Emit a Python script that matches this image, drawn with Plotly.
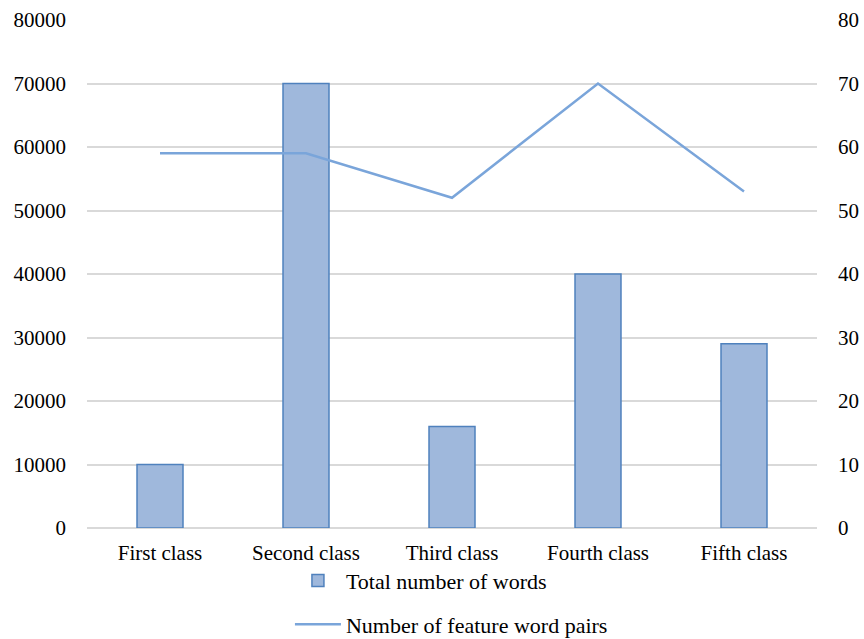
import plotly.graph_objects as go

categories = ["First class", "Second class", "Third class", "Fourth class", "Fifth class"]
total_words = [10000, 70000, 16000, 40000, 29000]
feature_pairs = [59, 59, 52, 70, 53]
left_ticks = [0, 10000, 20000, 30000, 40000, 50000, 60000, 70000, 80000]
right_ticks = [0, 10, 20, 30, 40, 50, 60, 70, 80]

font_family = "Liberation Serif, Times New Roman, serif"

fig = go.Figure()
fig.add_trace(go.Bar(
    x=categories, y=total_words, name="Total number of words",
    width=0.315,
    marker=dict(color="#9fb8dc", line=dict(color="#4f81bd", width=1.5)),
    legendgroup="a",
))
fig.add_trace(go.Scatter(
    x=categories, y=feature_pairs, name="Number of feature word pairs",
    mode="lines", yaxis="y2",
    line=dict(color="#7aa5da", width=2.5),
    legendgroup="b",
))

fig.update_layout(
    width=864, height=639,
    margin=dict(l=87, r=47, t=20, b=111, autoexpand=False),
    paper_bgcolor="white", plot_bgcolor="white",
    font=dict(family=font_family, size=21, color="#000000"),
    showlegend=True,
    legend=dict(
        orientation="v", x=0.278, xanchor="left",
        yref="container", y=0.124, yanchor="top",
        traceorder="grouped", tracegroupgap=12, itemwidth=46,
        font=dict(family=font_family, size=22),
        bgcolor="rgba(0,0,0,0)",
    ),
    xaxis=dict(
        showgrid=False, showline=False, ticks="", tickfont=dict(size=21),
        ticklabelstandoff=10,
    ),
    yaxis=dict(
        range=[0, 80000], tickvals=left_ticks, ticktext=[str(v) for v in left_ticks],
        showgrid=True, gridcolor="#d9d9d9", gridwidth=1.5,
        zeroline=True, zerolinecolor="#d9d9d9", zerolinewidth=1.5,
        showline=False, ticks="", ticklabelstandoff=20,
    ),
    yaxis2=dict(
        range=[0, 80], tickvals=right_ticks, ticktext=[str(v) for v in right_ticks],
        overlaying="y", side="right", showgrid=False, zeroline=False,
        showline=False, ticks="", ticklabelstandoff=20,
    ),
)

fig.write_html("out.html")
